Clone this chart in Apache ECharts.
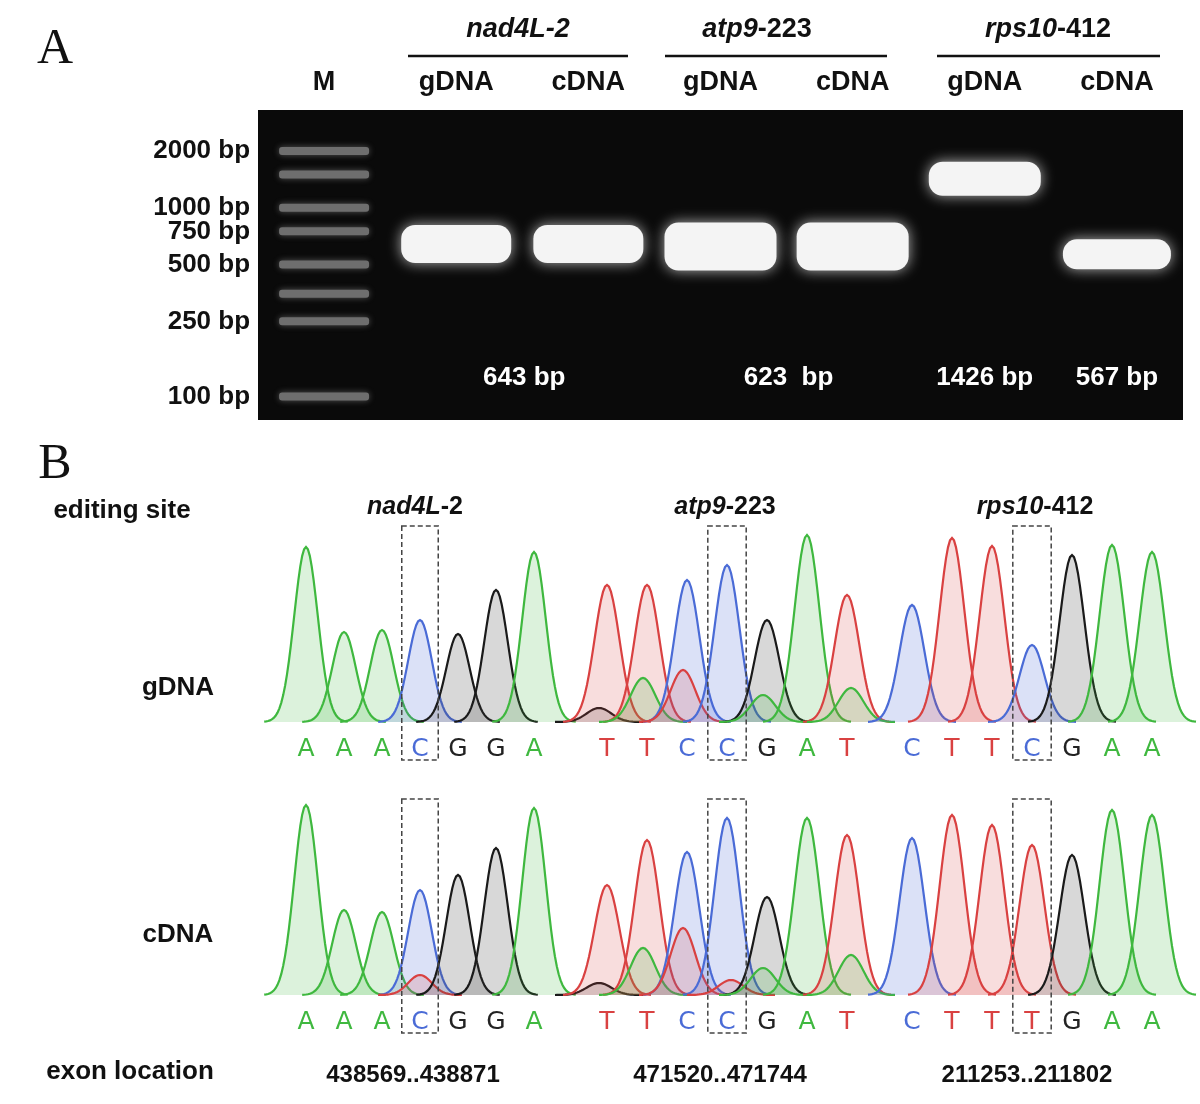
<!DOCTYPE html>
<html><head><meta charset="utf-8">
<script src="https://cdn.jsdelivr.net/npm/echarts@6/dist/echarts.min.js"></script>
<style>html,body{margin:0;background:#fff}#c{width:1200px;height:1104px}</style>
</head><body><div id="c"></div>
<script>
// ---- Panel A data ----
const lanes = ['M','gDNA','cDNA','gDNA','cDNA','gDNA','cDNA'];
const ladderBp = [2000, 1500, 1000, 750, 500, 350, 250, 100];
const ladderLabels = [[2000,'2000 bp'],[1000,'1000 bp'],[750,'750 bp'],[500,'500 bp'],[250,'250 bp'],[100,'100 bp']];
const sampleBands = [[1,643,'n'],[2,643,'n'],[3,623,'b'],[4,623,'b'],[5,1426,'g'],[6,567,'s']];
const sizeLabels = [[1,'643 bp'],[3,'623  bp'],[5,'1426 bp'],[6,'567 bp']];
// ---- Panel B data: [position, peak height, base] ----
const nad4lBases = 'AAACGGA', atp9GBases = 'TTCCGAT', rps10GBases = 'CTTCGAA', rps10CBases = 'CTTTGAA';
const nad4lG = [[0.5,175,'A'],[1.5,90,'A'],[2.5,92,'A'],[3.5,102,'C'],[4.5,88,'G'],[5.5,132,'G'],[6.5,170,'A']];
const nad4lC = [[0.5,190,'A'],[1.5,85,'A'],[2.5,83,'A'],[3.5,105,'C'],[3.5,20,'T'],[4.5,120,'G'],[5.5,147,'G'],[6.5,187,'A']];
const atp9G = [[0.3,14,'G'],[0.5,137,'T'],[1.5,137,'T'],[1.4,44,'A'],[2.5,142,'C'],[2.4,52,'T'],[3.5,157,'C'],[4.5,102,'G'],[4.4,27,'A'],[5.5,187,'A'],[6.5,127,'T'],[6.6,34,'A']];
const atp9C = [[0.3,12,'G'],[0.5,110,'T'],[1.5,155,'T'],[1.4,47,'A'],[2.5,143,'C'],[2.4,67,'T'],[3.5,177,'C'],[3.6,15,'T'],[4.5,98,'G'],[4.4,27,'A'],[5.5,177,'A'],[6.5,160,'T'],[6.6,40,'A']];
const rps10G = [[0.5,117,'C'],[1.5,184,'T'],[2.5,176,'T'],[3.5,77,'C'],[4.5,167,'G'],[5.5,177,'A'],[6.5,170,'A']];
const rps10C = [[0.5,157,'C'],[1.5,180,'T'],[2.5,170,'T'],[3.5,150,'T'],[4.5,140,'G'],[5.5,185,'A'],[6.5,180,'A']];
const exonLoc = ['438569..438871','471520..471744','211253..211802'];

const baseColor = {A:'#3fb83f',C:'#4a6bd6',G:'#1a1a1a',T:'#d94141'};
const baseFill = {A:'rgba(63,184,63,0.18)',C:'rgba(74,107,214,0.2)',G:'rgba(60,60,60,0.2)',T:'rgba(217,65,65,0.18)'};
const F = 'Liberation Sans, Arial, sans-serif';

const chart = echarts.init(document.getElementById('c'));
const grids = [{left:258,top:110,width:925,height:310,show:true,backgroundColor:'#0a0a0a',borderWidth:0}];
const xAxes = [{type:'category',data:lanes,gridIndex:0,position:'top',axisLine:{show:false},axisTick:{show:false},
  axisLabel:{fontSize:27,fontWeight:'bold',color:'#111',fontFamily:F,margin:14}}];
const yAxes = [{type:'log',gridIndex:0,min:75,max:3300,show:false}];
const series = [];
series.push({type:'custom',xAxisIndex:0,yAxisIndex:0,data:ladderBp.map(b=>[0,b]),renderItem:(p,api)=>{
  const c=api.coord([api.value(0),api.value(1)]);
  return {type:'rect',shape:{x:c[0]-45,y:c[1]-4,width:90,height:8,r:3},style:{fill:'#6e6e6e',shadowBlur:6,shadowColor:'rgba(200,200,200,0.4)'}};
}});
series.push({type:'custom',xAxisIndex:0,yAxisIndex:0,clip:false,data:ladderLabels.map(d=>[0,d[0],d[1]]),renderItem:(p,api)=>{
  const c=api.coord([0,api.value(1)]);
  return {type:'text',x:c[0]-74,y:c[1],style:{text:ladderLabels[p.dataIndex][1],align:'right',verticalAlign:'middle',font:'bold 26px '+F,fill:'#111'}};
}});
const bandSize={n:[110,38],b:[112,48],g:[112,34],s:[108,30]};
series.push({type:'custom',xAxisIndex:0,yAxisIndex:0,data:sampleBands,renderItem:(p,api)=>{
  const c=api.coord([api.value(0),api.value(1)]);const s=bandSize[sampleBands[p.dataIndex][2]];
  return {type:'rect',shape:{x:c[0]-s[0]/2,y:c[1]-s[1]/2,width:s[0],height:s[1],r:14},style:{fill:'#f4f4f4',shadowBlur:14,shadowColor:'rgba(255,255,255,0.7)'}};
}});
series.push({type:'custom',xAxisIndex:0,yAxisIndex:0,data:sizeLabels,renderItem:(p,api)=>{
  const i=sizeLabels[p.dataIndex];let c=api.coord([i[0],125]);const w=api.size([1,0])[0];
  let x=c[0]; if(i[0]===1||i[0]===3) x+=w/2+2;
  return {type:'text',x:x,y:c[1],style:{text:i[1],align:'center',verticalAlign:'middle',font:'bold 26px '+F,fill:'#fff'}};
}});

const panels=[[nad4lG,nad4lBases],[atp9G,atp9GBases],[rps10G,rps10GBases],[nad4lC,nad4lBases],[atp9C,atp9GBases],[rps10C,rps10CBases]];
const cols=[[287,266],[587,280],[892,280]], rowsTop=[530,803];
panels.forEach((pn,k)=>{
  const gi=k+1, col=cols[k%3], top=rowsTop[Math.floor(k/3)];
  grids.push({left:col[0],top:top,width:col[1],height:192});
  xAxes.push({type:'value',gridIndex:gi,min:0,max:7,show:false});
  yAxes.push({type:'value',gridIndex:gi,min:0,max:192,show:false});
  const peaks=pn[0];
  series.push({type:'custom',xAxisIndex:gi,yAxisIndex:gi,clip:false,data:peaks.map(d=>[d[0],d[1]]),renderItem:(p,api)=>{
    const cx=api.value(0),h=api.value(1),b=peaks[p.dataIndex][2],s=0.31;
    const pts=[];for(let t=-1.1;t<=1.101;t+=0.05){pts.push(api.coord([cx+t,h*Math.exp(-t*t/(2*s*s))]));}
    const poly=pts.slice();poly.push(api.coord([cx+1.1,0]));poly.unshift(api.coord([cx-1.1,0]));
    return {type:'group',children:[
      {type:'polygon',shape:{points:poly},style:{fill:baseFill[b]}},
      {type:'polyline',shape:{points:pts},style:{stroke:baseColor[b],lineWidth:2.2,fill:null}}]};
  }});
  const bases=pn[1].split('');
  series.push({type:'custom',xAxisIndex:gi,yAxisIndex:gi,clip:false,data:bases.map((b,i)=>[i+0.5,0]),renderItem:(p,api)=>{
    const c=api.coord([api.value(0),0]);const b=bases[p.dataIndex];
    return {type:'text',x:c[0],y:c[1]+27,style:{text:b,align:'center',verticalAlign:'middle',font:'25px DejaVu Sans, sans-serif',fill:b==='G'?'#222':baseColor[b]}};
  }});
  series.push({type:'custom',xAxisIndex:gi,yAxisIndex:gi,clip:false,data:[[3,0]],renderItem:(p,api)=>{
    const a=api.coord([3.02,0]),b=api.coord([3.98,192]);
    return {type:'rect',shape:{x:a[0],y:b[1]-4,width:b[0]-a[0],height:a[1]-b[1]+42},style:{fill:null,stroke:'#444',lineWidth:1.5,lineDash:[5,3]}};
  }});
});

const txt=(x,y,t,extra)=>Object.assign({type:'text',x:x,y:y,style:Object.assign({text:t,font:'bold 26px '+F,fill:'#111',align:'center',verticalAlign:'middle'},extra||{})});
const graphic=[
  txt(55,50,'A',{font:'50px Liberation Serif, serif'}),
  txt(55,465,'B',{font:'50px Liberation Serif, serif'}),
  txt(518,30,'',{rich:{i:{font:'italic bold 27px '+F,fill:'#111'}},text:'{i|nad4L-2}'}),
  txt(757,30,'',{rich:{i:{font:'italic bold 27px '+F,fill:'#111'},n:{font:'bold 27px '+F,fill:'#111'}},text:'{i|atp9}{n|-223}'}),
  txt(1048,30,'',{rich:{i:{font:'italic bold 27px '+F,fill:'#111'},n:{font:'bold 27px '+F,fill:'#111'}},text:'{i|rps10}{n|-412}'}),
  {type:'line',shape:{x1:408,y1:56,x2:628,y2:56},style:{stroke:'#111',lineWidth:2.5}},
  {type:'line',shape:{x1:665,y1:56,x2:887,y2:56},style:{stroke:'#111',lineWidth:2.5}},
  {type:'line',shape:{x1:937,y1:56,x2:1160,y2:56},style:{stroke:'#111',lineWidth:2.5}},
  txt(122,511,'editing site'),
  txt(415,507,'',{rich:{i:{font:'italic bold 25px '+F,fill:'#111'},n:{font:'bold 25px '+F,fill:'#111'}},text:'{i|nad4L}{n|-2}'}),
  txt(725,507,'',{rich:{i:{font:'italic bold 25px '+F,fill:'#111'},n:{font:'bold 25px '+F,fill:'#111'}},text:'{i|atp9}{n|-223}'}),
  txt(1035,507,'',{rich:{i:{font:'italic bold 25px '+F,fill:'#111'},n:{font:'bold 25px '+F,fill:'#111'}},text:'{i|rps10}{n|-412}'}),
  txt(178,688,'gDNA'),txt(178,935,'cDNA'),
  txt(130,1072,'exon location'),
  txt(413,1075,exonLoc[0],{font:'bold 24px '+F}),
  txt(720,1075,exonLoc[1],{font:'bold 24px '+F}),
  txt(1027,1075,exonLoc[2],{font:'bold 24px '+F})
];
chart.setOption({animation:false,grid:grids,xAxis:xAxes,yAxis:yAxes,series:series,graphic:graphic});
</script></body></html>
